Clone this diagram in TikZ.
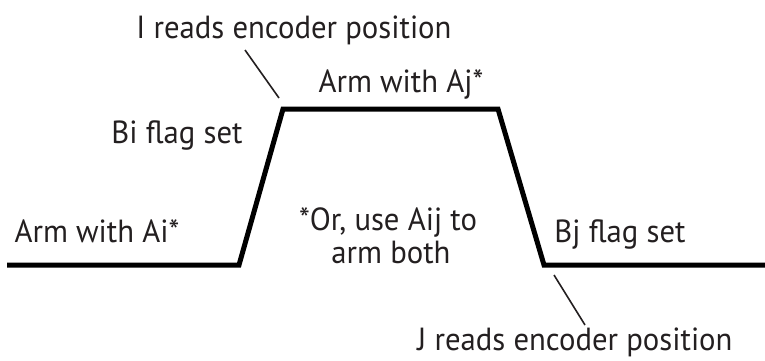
\documentclass[tikz,border=0pt]{standalone}
\usepackage{fontspec}
\setmainfont{PT Sans}[FakeStretch=0.96]
\usetikzlibrary{positioning}
\definecolor{inkgray}{RGB}{35,31,32}

\begin{document}
\begin{tikzpicture}[x=1pt, y=-1pt, font=\fontsize{32}{36}\selectfont,
    signal/.style={line width=5pt, line join=miter},
    leader/.style={line width=1.6pt, inkgray},
    label/.style={inner sep=0pt, anchor=base, text=inkgray}]
    \useasboundingbox (0,0) rectangle (765,360);

    % Points of the pulse
    \coordinate (low1) at (7,265);
    \coordinate (rise) at (239,265);
    \coordinate (high1) at (283,109);
    \coordinate (high2) at (498,109);
    \coordinate (fall) at (544,265);
    \coordinate (low2) at (765,265);

    % Draw pulse
    \draw[signal] (low1) -- (rise) -- (high1) -- (high2) -- (fall) -- (low2);

    % Draw labels
    \node[label] (ireads) at (294,38) {I reads encoder position};
    \node[label] (armj) at (401,92) {Arm with Aj*};
    \node[label] (biflag) at (177,143) {Bi flag set};
    \node[label] (armi) at (97,242) {Arm with Ai*};
    \node[label] (note1) at (388,230) {*Or, use Aij to};
    \node[label] (note2) at (391,263) {arm both};
    \node[label] (bjflag) at (620,242) {Bj flag set};
    \node[label] (jreads) at (575,350) {J reads encoder position};

    % Draw leaders
    \coordinate (ltop1) at (245,50);
    \coordinate (ltop2) at (279,98);
    \coordinate (lbot1) at (554,275);
    \coordinate (lbot2) at (585,325);
    \draw[leader] (ltop1) -- (ltop2);
    \draw[leader] (lbot1) -- (lbot2);

\end{tikzpicture}
\end{document}
